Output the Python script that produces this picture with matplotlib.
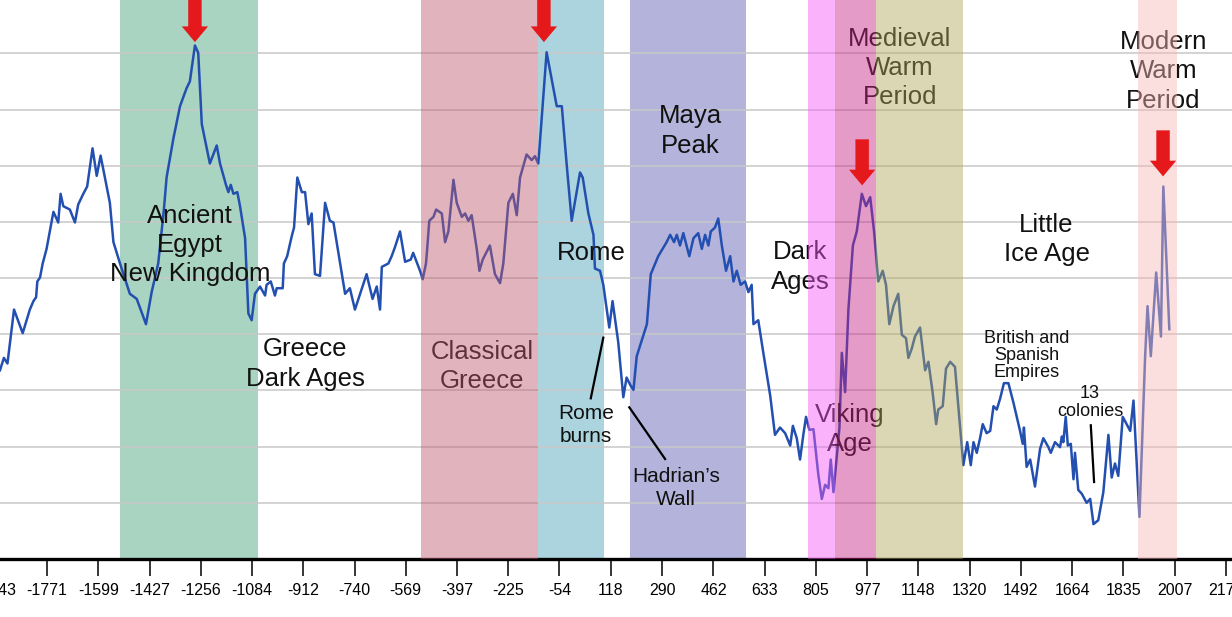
import matplotlib
matplotlib.use('Agg')
import matplotlib.pyplot as plt
import matplotlib.transforms as mtransforms
from matplotlib.patches import FancyArrow

# Reconstructed temperature proxy curve (years, relative units = gridline steps)
years = [
    -1928, -1915, -1903, -1881, -1852, -1828, -1816, -1807, -1803, -1794,
    -1785, -1772, -1749, -1733, -1725, -1716, -1694, -1677, -1666, -1649,
    -1636, -1618, -1604, -1591, -1573, -1560, -1548, -1526, -1493, -1470,
    -1439, -1420, -1398, -1379, -1370, -1347, -1325, -1303, -1292, -1275,
    -1264, -1252, -1225, -1202, -1191, -1171, -1163, -1155, -1146, -1133,
    -1124, -1107, -1096, -1085, -1074, -1057, -1040, -1035, -1021, -1007,
    -1001, -981, -977, -966, -951, -943, -932, -917, -906, -895,
    -884, -873, -856, -839, -823, -811, -772, -756, -739, -700,
    -680, -666, -655, -649, -627, -616, -605, -588, -571, -552,
    -544, -521,
    -512, -501, -497, -490, -476, -467, -448, -437, -426, -409,
    -398, -381, -370, -359, -348, -331, -322, -311, -287, -270,
    -253, -242, -225, -210, -197, -186, -164, -147, -136, -125,
    -121, -97, -63, -46, -30, -13, 15, 24, 43, 60,
    65, 82, 93, 113, 124, 143, 160, 171, 183, 194,
    205, 239, 252, 277, 305, 317, 330, 339, 350, 361,
    381, 395, 411, 423, 434, 445, 453, 467, 478, 490,
    504, 518, 529, 540, 553, 568, 579, 590, 596, 612,
    629, 652, 668, 685, 702, 719, 728, 741, 752, 763,
    772, 783, 797,
    813, 825, 836, 847, 855, 864, 873, 884, 892, 903,
    914, 929, 942, 959, 973, 987, 1000, 1014, 1029, 1040,
    1051, 1065, 1081, 1093, 1107, 1115, 1126, 1137, 1154, 1171,
    1182, 1196, 1208, 1215, 1230, 1241, 1255, 1271, 1286, 1299,
    1312, 1324, 1333, 1344, 1355, 1364, 1377, 1389, 1400, 1411,
    1422, 1435, 1450, 1467, 1489, 1498, 1502, 1511, 1523, 1539,
    1556, 1567, 1584, 1592, 1606, 1623, 1629, 1634, 1642, 1649,
    1659, 1668, 1673, 1684, 1696, 1712, 1724, 1735, 1751, 1768,
    1785, 1796, 1807, 1818, 1833, 1846, 1858, 1869, 1889, 1908,
    1916, 1927, 1945, 1961, 1969, 1989,
]

temps = [
    3.36, 3.58, 3.48, 4.44, 4.02, 4.44, 4.59, 4.66, 4.94, 5.01,
    5.26, 5.52, 6.18, 5.99, 6.50, 6.28, 6.22, 5.99, 6.31, 6.50,
    6.63, 7.31, 6.82, 7.18, 6.69, 6.34, 5.64, 5.26, 4.72, 4.63,
    4.18, 4.75, 5.26, 6.22, 6.79, 7.49, 8.06, 8.38, 8.50, 9.14,
    9.01, 7.74, 7.04, 7.36, 7.04, 6.66, 6.53, 6.66, 6.50, 6.53,
    6.28, 5.71, 4.37, 4.25, 4.72, 4.85, 4.69, 4.88, 4.94, 4.69,
    4.82, 4.82, 5.26, 5.39, 5.74, 5.90, 6.79, 6.53, 6.53, 5.96,
    6.15, 5.07, 5.04, 6.34, 6.02, 5.99, 4.72, 4.82, 4.44, 5.07,
    4.63, 4.85, 4.44, 5.20, 5.26, 5.39, 5.55, 5.83, 5.29, 5.33,
    5.45, 5.13,
    4.98, 5.26, 5.52, 6.02, 6.09, 6.22, 6.15, 5.64, 5.83, 6.75,
    6.34, 6.09, 6.15, 6.02, 6.12, 5.52, 5.13, 5.33, 5.58, 5.07,
    4.91, 5.26, 6.34, 6.50, 6.12, 6.79, 7.20, 7.10, 7.17, 7.04,
    7.30, 9.02, 8.06, 8.06, 7.04, 6.02, 6.88, 6.79, 6.15, 5.77,
    5.17, 5.13, 4.88, 4.12, 4.59, 3.86, 2.88, 3.23, 3.10, 3.01,
    3.61, 4.18, 5.07, 5.39, 5.64, 5.77, 5.64, 5.77, 5.58, 5.80,
    5.39, 5.71, 5.80, 5.52, 5.77, 5.58, 5.83, 5.90, 6.06, 5.58,
    5.13, 5.39, 4.94, 5.13, 4.88, 4.94, 4.75, 4.88, 4.18, 4.25,
    3.67, 2.91, 2.21, 2.34, 2.24, 2.02, 2.37, 2.15, 1.77, 2.21,
    2.53, 2.30, 2.31,
    1.51, 1.07, 1.32, 1.26, 1.77, 1.19, 1.70, 2.34, 3.67, 2.97,
    4.44, 5.58, 5.83, 6.50, 6.28, 6.44, 5.83, 4.94, 5.13, 4.88,
    4.18, 4.50, 4.72, 3.99, 3.93, 3.58, 3.74, 3.96, 4.12, 3.36,
    3.51, 2.97, 2.40, 2.66, 2.72, 3.39, 3.51, 3.42, 2.47, 1.67,
    2.08, 1.67, 2.08, 1.89, 2.15, 2.40, 2.24, 2.28, 2.72, 2.66,
    2.85, 3.13, 3.13, 2.78, 2.28, 2.05, 2.34, 1.64, 1.77, 1.29,
    1.96, 2.15, 1.99, 1.89, 2.08, 1.99, 2.18, 2.08, 2.53, 2.02,
    2.05, 1.42, 1.89, 1.23, 1.16, 1.00, 1.07, 0.62, 0.69, 1.19,
    2.21, 1.45, 1.70, 1.48, 2.53, 2.40, 2.28, 2.82, 0.75, 3.61,
    4.50, 3.61, 5.10, 3.96, 6.63, 4.09,
]

tick_years = [-1943, -1771, -1599, -1427, -1256, -1084, -912, -740, -569,
              -397, -225, -54, 118, 290, 462, 633, 805, 977, 1148, 1320,
              1492, 1664, 1835, 2007, 2178]

# Historical period bands
band_start = [-1526, -518, -126, 183, 779, 869, 1007, 1884]
band_end = [-1064, -126, 95, 571, 869, 1007, 1298, 2015]

# Warm peaks marked with red arrows
arrow_year = [-1275, -106, 960, 1968]
arrow_top = [10.3, 10.3, 7.47, 7.63]
arrow_tip = [9.20, 9.20, 6.65, 6.81]

# (colour, drawn over the curve?)
BAND_STYLE = [
    ('#a8d4c1', False),
    ('#bc586e', True),
    ('#acd4de', False),
    ('#b3b3dc', False),
    ('#f458f4', True),
    ('#c72185', True),
    ('#b1a658', True),
    ('#f8b6b6', True),
]

BIG = 18.5
SMALL = 15
TINY = 13

LABELS = [
    ('Ancient\nEgypt\nNew Kingdom', -1292, 5.59, BIG, 1.28),
    ('Greece\nDark Ages', -906, 3.47, BIG, 1.28),
    ('Classical\nGreece', -314, 3.43, BIG, 1.28),
    ('Rome', 54, 5.44, BIG, 1.28),
    ('Maya\nPeak', 384, 7.62, BIG, 1.28),
    ('Dark\nAges', 752, 5.20, BIG, 1.28),
    ('Viking\nAge', 920, 2.30, BIG, 1.28),
    ('Medieval\nWarm\nPeriod', 1087, 8.74, BIG, 1.28),
    ('Little\nIce Age', 1578, 5.69, BIG, 1.28),
    ('Modern\nWarm\nPeriod', 1969, 8.68, BIG, 1.28),
    ('Rome\nburns', 34, 2.38, SMALL, 1.25),
    ('Hadrian\u2019s\nWall', 336, 1.27, SMALL, 1.25),
    ('British and\nSpanish\nEmpires', 1511, 3.63, TINY, 1.0),
    ('13\ncolonies', 1723, 2.79, TINY, 1.05),
]

POINTERS = [
    ((93, 51), (3.94, 2.86)),
    ((180, 300), (2.70, 1.78)),
    ((1726, 1737), (2.38, 1.37)),
]

plt.rcParams['font.family'] = ['Liberation Sans', 'DejaVu Sans']

fig = plt.figure(figsize=(12.32, 6.17), dpi=100)
ax = fig.add_axes([0, 58 / 617, 1, 559 / 617])
ax.set_xlim(-1928, 2199)
ax.set_ylim(0, 9.95)

for v in range(1, 10):
    ax.axhline(v, color='#c8c8c8', linewidth=1.1, zorder=0.5)

for (x0, x1), (color, over) in zip(zip(band_start, band_end), BAND_STYLE):
    if over:
        ax.axvspan(x0, x1, color=color, alpha=0.45, linewidth=0, zorder=4)
    else:
        ax.axvspan(x0, x1, color=color, linewidth=0, zorder=0.2)

ax.plot(years, temps, color='#2350b0', linewidth=1.8, zorder=2)

for text, x, y, size, ls in LABELS:
    ax.text(x, y, text, ha='center', va='center', fontsize=size,
            color='#111111', linespacing=ls, zorder=3)

for xs, ys in POINTERS:
    ax.plot(xs, ys, color='black', linewidth=1.6, zorder=3)

for x, top, tip in zip(arrow_year, arrow_top, arrow_tip):
    ax.add_patch(FancyArrow(
        x, top, 0, tip - top, width=45, head_width=88, head_length=0.28,
        length_includes_head=True, color='#e5191c', linewidth=0, zorder=5,
        clip_on=False))

# Axis styling
for side in ['left', 'right', 'top']:
    ax.spines[side].set_visible(False)
ax.spines['bottom'].set_linewidth(2.4)
ax.spines['bottom'].set_color('black')
ax.set_yticks([])
visible = [t for t in tick_years if -1928 <= t <= 2199]
ax.set_xticks(visible)
ax.set_xticklabels([str(t) for t in visible])
ax.tick_params(axis='x', direction='out', length=12, width=1.1, pad=5,
               labelsize=11.5, colors='black')
for lab in ax.get_xticklabels():
    lab.set_family(['Liberation Sans Narrow', 'Liberation Sans', 'DejaVu Sans'])

# the first tick label sits just past the left edge and is cut by the frame
offset = mtransforms.ScaledTranslation(0, -17 / 72, fig.dpi_scale_trans)
ax.text(tick_years[0], 0, str(tick_years[0]), transform=ax.get_xaxis_transform() + offset,
        ha='center', va='top', fontsize=11.5, clip_on=False,
        family=['Liberation Sans Narrow', 'Liberation Sans', 'DejaVu Sans'])

fig.savefig('out.png', dpi=100)
